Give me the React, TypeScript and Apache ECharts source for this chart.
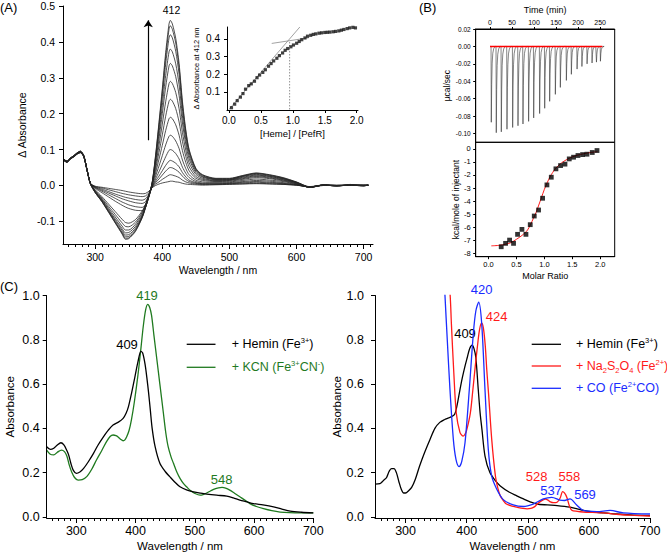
import React, { useEffect, useRef } from "react";
import * as echarts from "echarts";

const FONT = "'Liberation Sans', Arial, Helvetica, sans-serif";
const W = 667;
const H = 554;

// ---------------- Panel A : heme titration difference spectra ----------------
const A_WL = [253, 258, 263, 268, 273, 278, 283, 288, 293, 300, 310, 320, 330, 340, 345, 350, 360, 370, 375, 380, 385, 390, 395, 400, 405, 410, 412, 415, 420, 425, 430, 435, 440, 450, 460, 480, 500, 520, 540, 560, 580, 600, 620, 640, 660, 680, 700, 707];

const A_SPEC_01 = [0.072, 0.066, 0.074, 0.079, 0.087, 0.091, 0.079, 0.042, 0.006, -0.002, -0.005, -0.008, -0.011, -0.014, -0.016, -0.018, -0.021, -0.023, -0.022, -0.016, -0.006, 0.000, 0.004, 0.007, 0.009, 0.011, 0.012, 0.012, 0.010, 0.009, 0.006, 0.004, 0.003, 0.002, 0.001, 0.002, 0.003, 0.004, 0.005, 0.004, 0.003, 0.001, -0.003, 0.001, -0.001, 0.001, -0.001, 0.001];
const A_SPEC_02 = [0.070, 0.064, 0.075, 0.080, 0.088, 0.092, 0.080, 0.041, 0.005, -0.003, -0.007, -0.012, -0.017, -0.022, -0.024, -0.026, -0.029, -0.031, -0.029, -0.020, -0.005, 0.004, 0.010, 0.017, 0.023, 0.029, 0.030, 0.029, 0.026, 0.022, 0.015, 0.010, 0.007, 0.004, 0.003, 0.003, 0.004, 0.005, 0.006, 0.005, 0.003, 0.001, -0.004, 0.001, 0.000, 0.001, 0.000, 0.001];
const A_SPEC_03 = [0.074, 0.067, 0.073, 0.081, 0.089, 0.093, 0.081, 0.043, 0.006, -0.004, -0.010, -0.017, -0.024, -0.030, -0.033, -0.035, -0.039, -0.041, -0.037, -0.024, -0.004, 0.008, 0.018, 0.029, 0.040, 0.049, 0.050, 0.049, 0.044, 0.037, 0.026, 0.017, 0.011, 0.006, 0.004, 0.004, 0.005, 0.007, 0.009, 0.007, 0.005, 0.001, -0.004, 0.001, 0.000, 0.000, 0.001, 0.000];
const A_SPEC_04 = [0.071, 0.065, 0.076, 0.080, 0.088, 0.092, 0.080, 0.042, 0.005, -0.005, -0.013, -0.021, -0.029, -0.037, -0.040, -0.043, -0.048, -0.050, -0.045, -0.027, -0.003, 0.012, 0.026, 0.041, 0.056, 0.068, 0.070, 0.068, 0.062, 0.052, 0.036, 0.024, 0.015, 0.008, 0.005, 0.005, 0.006, 0.009, 0.011, 0.009, 0.006, 0.002, -0.004, 0.001, -0.001, 0.001, 0.000, 0.001];
const A_SPEC_05 = [0.073, 0.068, 0.074, 0.082, 0.089, 0.093, 0.082, 0.043, 0.005, -0.006, -0.016, -0.026, -0.036, -0.046, -0.050, -0.054, -0.059, -0.061, -0.054, -0.030, -0.002, 0.018, 0.038, 0.059, 0.080, 0.098, 0.100, 0.098, 0.089, 0.074, 0.051, 0.034, 0.022, 0.011, 0.007, 0.007, 0.008, 0.011, 0.014, 0.012, 0.008, 0.003, -0.005, 0.001, 0.000, 0.000, 0.001, 0.000];
const A_SPEC_06 = [0.070, 0.066, 0.077, 0.081, 0.088, 0.093, 0.081, 0.041, 0.005, -0.008, -0.020, -0.032, -0.044, -0.055, -0.060, -0.064, -0.069, -0.070, -0.060, -0.032, 0.000, 0.026, 0.054, 0.083, 0.113, 0.137, 0.140, 0.137, 0.124, 0.103, 0.071, 0.047, 0.030, 0.015, 0.010, 0.009, 0.010, 0.014, 0.018, 0.015, 0.011, 0.004, -0.005, 0.001, -0.001, 0.001, 0.000, 0.001];
const A_SPEC_07 = [0.072, 0.067, 0.075, 0.082, 0.089, 0.094, 0.082, 0.042, 0.005, -0.012, -0.031, -0.052, -0.073, -0.094, -0.103, -0.105, -0.095, -0.071, -0.052, -0.026, 0.003, 0.035, 0.073, 0.112, 0.153, 0.186, 0.190, 0.186, 0.169, 0.140, 0.097, 0.064, 0.041, 0.020, 0.014, 0.011, 0.012, 0.017, 0.022, 0.019, 0.013, 0.005, -0.005, 0.001, 0.000, 0.001, -0.001, 0.001];
const A_SPEC_08 = [0.071, 0.064, 0.076, 0.081, 0.090, 0.094, 0.081, 0.041, 0.005, -0.014, -0.035, -0.058, -0.081, -0.104, -0.114, -0.115, -0.102, -0.075, -0.054, -0.027, 0.004, 0.045, 0.092, 0.141, 0.193, 0.235, 0.240, 0.235, 0.214, 0.177, 0.123, 0.081, 0.052, 0.025, 0.017, 0.013, 0.014, 0.019, 0.025, 0.021, 0.015, 0.006, -0.005, 0.000, 0.001, 0.000, 0.001, 0.000];
const A_SPEC_09 = [0.073, 0.068, 0.074, 0.083, 0.090, 0.094, 0.083, 0.042, 0.005, -0.016, -0.038, -0.063, -0.088, -0.113, -0.124, -0.124, -0.108, -0.079, -0.056, -0.028, 0.005, 0.054, 0.111, 0.171, 0.233, 0.284, 0.290, 0.284, 0.259, 0.214, 0.148, 0.098, 0.063, 0.031, 0.020, 0.014, 0.015, 0.021, 0.027, 0.023, 0.016, 0.007, -0.005, 0.001, 0.000, 0.001, -0.001, 0.001];
const A_SPEC_10 = [0.070, 0.065, 0.077, 0.082, 0.089, 0.095, 0.082, 0.041, 0.004, -0.017, -0.040, -0.067, -0.094, -0.120, -0.132, -0.131, -0.114, -0.083, -0.058, -0.029, 0.006, 0.063, 0.130, 0.200, 0.274, 0.333, 0.340, 0.333, 0.303, 0.251, 0.174, 0.115, 0.074, 0.036, 0.023, 0.016, 0.016, 0.023, 0.029, 0.025, 0.018, 0.008, -0.005, 0.001, 0.000, 0.001, 0.000, 0.000];
const A_SPEC_11 = [0.072, 0.067, 0.075, 0.082, 0.090, 0.095, 0.083, 0.042, 0.004, -0.018, -0.042, -0.070, -0.098, -0.125, -0.138, -0.137, -0.119, -0.086, -0.060, -0.030, 0.007, 0.070, 0.145, 0.223, 0.306, 0.372, 0.380, 0.372, 0.339, 0.281, 0.194, 0.128, 0.083, 0.040, 0.025, 0.017, 0.017, 0.025, 0.031, 0.026, 0.019, 0.008, -0.005, 0.001, -0.001, 0.001, 0.001, 0.000];
const A_SPEC_12 = [0.071, 0.066, 0.076, 0.083, 0.091, 0.095, 0.082, 0.041, 0.004, -0.019, -0.044, -0.072, -0.102, -0.130, -0.143, -0.142, -0.123, -0.088, -0.061, -0.030, 0.008, 0.077, 0.160, 0.247, 0.338, 0.411, 0.420, 0.411, 0.374, 0.310, 0.214, 0.141, 0.091, 0.044, 0.027, 0.018, 0.018, 0.026, 0.033, 0.028, 0.020, 0.009, -0.005, 0.001, 0.000, 0.001, 0.000, 0.001];
const A_SPEC_13 = [0.073, 0.068, 0.074, 0.083, 0.091, 0.096, 0.083, 0.042, 0.004, -0.020, -0.045, -0.074, -0.104, -0.133, -0.147, -0.146, -0.126, -0.089, -0.061, -0.030, 0.009, 0.082, 0.169, 0.261, 0.358, 0.435, 0.445, 0.435, 0.397, 0.329, 0.227, 0.150, 0.097, 0.046, 0.029, 0.019, 0.019, 0.027, 0.034, 0.029, 0.021, 0.009, -0.004, 0.001, -0.001, 0.002, 0.000, 0.001];
const A_SPEC_14 = [0.071, 0.066, 0.077, 0.082, 0.090, 0.095, 0.083, 0.041, 0.004, -0.020, -0.045, -0.075, -0.105, -0.135, -0.150, -0.148, -0.128, -0.090, -0.062, -0.030, 0.010, 0.085, 0.175, 0.270, 0.370, 0.450, 0.460, 0.450, 0.410, 0.340, 0.235, 0.155, 0.100, 0.048, 0.030, 0.020, 0.020, 0.028, 0.035, 0.030, 0.022, 0.010, -0.004, 0.002, -0.002, 0.003, -0.001, 0.002];
const A_SPECTRA = [A_SPEC_01, A_SPEC_02, A_SPEC_03, A_SPEC_04, A_SPEC_05, A_SPEC_06, A_SPEC_07, A_SPEC_08, A_SPEC_09, A_SPEC_10, A_SPEC_11, A_SPEC_12, A_SPEC_13, A_SPEC_14];

const A_X_TICKS = [300, 400, 500, 600, 700];
const A_X_MINOR = [260, 270, 280, 290, 310, 320, 330, 340, 350, 360, 370, 380, 390, 410, 420, 430, 440, 450, 460, 470, 480, 490, 510, 520, 530, 540, 550, 560, 570, 580, 590, 610, 620, 630, 640, 650, 660, 670, 680, 690, 710];
const A_Y_TICKS = [-0.1, 0, 0.1, 0.2, 0.3, 0.4, 0.5];
const A_ARROW_WL = 379;
const A_ARROW_FROM = 0.126;
const A_ARROW_TO = 0.46;

// Inset of panel A
const INSET_RATIO = [0.04, 0.09, 0.13, 0.18, 0.22, 0.26, 0.31, 0.35, 0.40, 0.44, 0.48, 0.53, 0.57, 0.62, 0.66, 0.70, 0.75, 0.79, 0.84, 0.88, 0.92, 0.97, 1.01, 1.06, 1.10, 1.14, 1.19, 1.23, 1.28, 1.32, 1.36, 1.41, 1.45, 1.50, 1.54, 1.58, 1.63, 1.67, 1.72, 1.76, 1.80, 1.85, 1.89, 1.94, 1.98];
const INSET_ABS = [0.010, 0.030, 0.050, 0.070, 0.090, 0.115, 0.135, 0.145, 0.160, 0.180, 0.195, 0.210, 0.225, 0.245, 0.260, 0.275, 0.290, 0.305, 0.320, 0.335, 0.345, 0.355, 0.365, 0.375, 0.385, 0.395, 0.405, 0.415, 0.420, 0.425, 0.428, 0.432, 0.434, 0.436, 0.437, 0.438, 0.440, 0.442, 0.445, 0.449, 0.453, 0.458, 0.462, 0.465, 0.462];
const INSET_STEEP_X = [0, 1.11];
const INSET_STEEP_Y = [0, 0.467];
const INSET_FLAT_X = [0.67, 1.25];
const INSET_FLAT_Y = [0.374, 0.406];
const INSET_BREAK_X = [0.95, 0.95];
const INSET_BREAK_Y = [0, 0.39];
const INSET_X_TICKS = [0, 0.5, 1, 1.5, 2];
const INSET_Y_TICKS = [0.1, 0.2, 0.3, 0.4];

// ---------------- Panel B : ITC ----------------
const B_INJ_TIME = [2.3, 13.6, 25, 37.9, 50.8, 62.9, 74.2, 87, 98.5, 112, 123.5, 134.8, 147.7, 159, 172.7, 184, 197, 208, 219.7, 231, 241, 250];
const B_INJ_PEAK = [-0.087, -0.099, -0.098, -0.095, -0.093, -0.091, -0.089, -0.086, -0.082, -0.077, -0.071, -0.063, -0.055, -0.047, -0.039, -0.032, -0.026, -0.023, -0.020, -0.019, -0.018, -0.017];
const B_SPIKE_DT = [0, 0.6, 1.5, 2.6, 4, 6, 9];
const B_SPIKE_FRAC = [0, 1, 0.5, 0.22, 0.09, 0.03, 0];
const B_BASE_T = [0, 255];
const B_TIME_TICKS = [0, 50, 100, 150, 200, 250];
const B_RATE_TICKS = [0.02, 0, -0.02, -0.04, -0.06, -0.08, -0.1];

const B_RATIO = [0.227, 0.305, 0.377, 0.448, 0.52, 0.598, 0.67, 0.747, 0.819, 0.896, 0.968, 1.046, 1.124, 1.207, 1.29, 1.369, 1.446, 1.523, 1.602, 1.685, 1.763, 1.858, 1.943];
const B_HEAT = [-7.49, -7.23, -6.98, -7.23, -6.54, -6.16, -6.54, -5.8, -5.14, -4.68, -3.78, -2.76, -2.17, -1.53, -1.28, -1.17, -0.77, -0.64, -0.51, -0.44, -0.41, -0.28, -0.13];
const B_FIT_RATIO = [0.05, 0.2, 0.3, 0.4, 0.5, 0.6, 0.7, 0.8, 0.85, 0.9, 0.95, 1.0, 1.05, 1.1, 1.15, 1.2, 1.3, 1.4, 1.5, 1.6, 1.7, 1.8, 1.9, 1.95];
const B_FIT_HEAT = [-7.42, -7.38, -7.3, -7.18, -6.92, -6.62, -6.2, -5.35, -4.88, -4.3, -3.7, -3.1, -2.6, -2.15, -1.8, -1.5, -1.1, -0.82, -0.62, -0.48, -0.38, -0.3, -0.24, -0.21];
const B_RATIO_TICKS = [0, 0.5, 1, 1.5, 2];
const B_HEAT_TICKS = [0, -1, -2, -3, -4, -5, -6, -7, -8];

// ---------------- Panel C : absorption spectra ----------------
const CL_HEMIN_WL = [250, 256, 262, 268, 274, 279, 284, 287, 291, 295, 300, 306, 312, 320, 329, 337, 346, 354, 362, 371, 379, 384, 388, 393, 399, 404, 409, 412, 416, 419, 422, 425, 428, 433, 441, 450, 458, 466, 475, 486, 498, 510, 520, 537, 554, 565, 576, 588, 599, 615, 633, 647, 661, 680, 700];
const CL_HEMIN_ABS = [0.317, 0.305, 0.31, 0.325, 0.335, 0.325, 0.3, 0.28, 0.24, 0.21, 0.197, 0.203, 0.218, 0.248, 0.287, 0.326, 0.363, 0.392, 0.415, 0.428, 0.445, 0.468, 0.498, 0.556, 0.634, 0.7, 0.748, 0.74, 0.69, 0.63, 0.56, 0.48, 0.4, 0.317, 0.242, 0.205, 0.181, 0.158, 0.136, 0.122, 0.113, 0.107, 0.103, 0.098, 0.094, 0.086, 0.076, 0.068, 0.06, 0.054, 0.045, 0.035, 0.026, 0.021, 0.018];
const CL_KCN_WL = [250, 256, 262, 268, 275, 280, 284, 288, 292, 297, 303, 310, 318, 326, 334, 343, 351, 357, 362, 367, 371, 375, 379, 382, 385, 389, 393, 398, 404, 409, 413, 417, 420.5, 424, 427, 431, 436, 441, 447, 451, 455, 460, 464, 470, 475, 481, 486, 493, 500, 509, 514, 520, 527, 534, 540, 546, 552, 559, 567, 576, 585, 593, 604, 616, 630, 644, 660, 678, 700];
const CL_KCN_ABS = [0.302, 0.283, 0.28, 0.292, 0.302, 0.295, 0.275, 0.235, 0.204, 0.178, 0.166, 0.168, 0.183, 0.215, 0.257, 0.3, 0.34, 0.363, 0.37, 0.367, 0.36, 0.35, 0.344, 0.348, 0.362, 0.39, 0.438, 0.52, 0.64, 0.76, 0.861, 0.935, 0.96, 0.945, 0.91, 0.82, 0.71, 0.6, 0.468, 0.38, 0.317, 0.27, 0.242, 0.2, 0.174, 0.15, 0.136, 0.118, 0.106, 0.098, 0.101, 0.108, 0.118, 0.127, 0.131, 0.133, 0.13, 0.121, 0.107, 0.091, 0.075, 0.06, 0.047, 0.037, 0.028, 0.022, 0.019, 0.018, 0.018];

const CR_HEMIN_WL = [250, 258, 264, 269, 273, 277, 281, 285, 289, 293, 297, 300, 305, 310, 316, 323, 331, 340, 348, 356, 364, 371, 380, 384, 389, 393, 397, 401, 405, 409, 412, 415, 419, 422, 425, 430, 438, 448, 455, 470, 482, 493, 504, 515, 532, 548, 569, 581, 591, 606, 624, 645, 668, 700];
const CR_HEMIN_ABS = [0.148, 0.15, 0.165, 0.178, 0.205, 0.218, 0.218, 0.2, 0.16, 0.125, 0.108, 0.108, 0.118, 0.133, 0.17, 0.23, 0.29, 0.35, 0.4, 0.427, 0.44, 0.448, 0.462, 0.5, 0.574, 0.63, 0.678, 0.72, 0.761, 0.776, 0.76, 0.72, 0.574, 0.47, 0.395, 0.275, 0.2, 0.16, 0.14, 0.111, 0.095, 0.081, 0.068, 0.058, 0.054, 0.051, 0.044, 0.036, 0.029, 0.023, 0.018, 0.013, 0.009, 0.006];
const CR_DITH_WL = [360, 364, 369, 373, 375, 379, 383, 389, 394, 397, 400, 406, 410, 414, 418, 421, 424.5, 427.5, 430.5, 433, 436, 441, 447, 451, 455, 461, 465, 474, 482, 492, 499, 505, 510, 515, 521, 529, 533, 537, 542, 548, 553, 557, 560, 564, 568, 572, 581, 591, 606, 624, 645, 668, 700];
const CR_DITH_ABS = [1.6, 1.3, 1.12, 1.0, 0.873, 0.649, 0.469, 0.382, 0.365, 0.372, 0.392, 0.469, 0.57, 0.679, 0.78, 0.845, 0.876, 0.85, 0.77, 0.66, 0.55, 0.35, 0.185, 0.13, 0.095, 0.07, 0.058, 0.049, 0.044, 0.038, 0.036, 0.038, 0.044, 0.056, 0.07, 0.08, 0.076, 0.068, 0.064, 0.066, 0.085, 0.114, 0.108, 0.088, 0.05, 0.03, 0.025, 0.022, 0.02, 0.018, 0.012, 0.008, 0.004];
const CR_CO_WL = [358, 361, 364.5, 368.3, 372.7, 378.2, 382.5, 387.5, 391.9, 397.3, 404.3, 410.9, 415, 419.7, 424.6, 430, 435.4, 440.9, 449.1, 459.9, 476.3, 492.7, 509, 525.4, 539.2, 552.7, 560, 569.1, 580, 590.9, 612.8, 634.6, 656.4, 700];
const CR_CO_ABS = [1.5, 1.2, 1.0, 0.798, 0.574, 0.35, 0.26, 0.227, 0.25, 0.335, 0.574, 0.828, 0.93, 0.97, 0.873, 0.574, 0.305, 0.185, 0.126, 0.078, 0.054, 0.047, 0.058, 0.081, 0.088, 0.076, 0.074, 0.081, 0.054, 0.029, 0.024, 0.029, 0.018, 0.013];

const C_X_TICKS = [300, 400, 500, 600, 700];
const C_X_MINOR = [260, 270, 280, 290, 310, 320, 330, 340, 350, 360, 370, 380, 390, 410, 420, 430, 440, 450, 460, 470, 480, 490, 510, 520, 530, 540, 550, 560, 570, 580, 590, 610, 620, 630, 640, 650, 660, 670, 680, 690];
const C_Y_TICKS = [0, 0.2, 0.4, 0.6, 0.8, 1.0];

const GREEN = "#1f7a1f";
const RED = "#ff1a1a";
const BLUE = "#1a2cff";

const zip = (xs: number[], ys: number[]) => xs.map((x, i) => [x, ys[i]]);

function txt(size: number, color = "#000") {
  return { fontFamily: FONT, fontSize: size, color };
}

function vAxis(p: any) {
  return {
    type: "value",
    gridIndex: p.grid,
    min: p.min,
    max: p.max,
    position: p.position,
    offset: 0,
    axisLine: { show: p.line !== false, onZero: false, lineStyle: { color: "#000", width: 1 } },
    axisTick: p.ticks
      ? { show: true, inside: !!p.inside, length: p.tickLen ?? 4, customValues: p.ticks, lineStyle: { color: "#000", width: 1 } }
      : { show: false },
    axisLabel: p.labels
      ? { show: true, customValues: p.labels, formatter: p.fmt, margin: p.margin ?? 6, ...txt(p.fs ?? 11) }
      : { show: false },
    splitLine: { show: false },
    minorTick: { show: false },
    name: p.name,
    nameLocation: "middle",
    nameGap: p.nameGap,
    nameRotate: p.nameRotate,
    nameTextStyle: txt(p.nfs ?? 11),
    silent: true,
    z: 5,
  };
}

function buildSpikes() {
  const pts: number[][] = [[B_BASE_T[0], 0]];
  B_INJ_TIME.forEach((t, i) => {
    B_SPIKE_DT.forEach((dt, k) => pts.push([t + dt, B_INJ_PEAK[i] * B_SPIKE_FRAC[k]]));
  });
  pts.push([B_BASE_T[1], 0]);
  return pts;
}

function legendText(x: number, y: number, text: string, color: string) {
  return {
    type: "text",
    x,
    y,
    silent: true,
    style: {
      text,
      align: "left",
      verticalAlign: "middle",
      rich: {
        n: { fontFamily: FONT, fontSize: 12.5, fill: color, lineHeight: 16 },
        s: { fontFamily: FONT, fontSize: 7.5, fill: color, lineHeight: 9, verticalAlign: "top" },
        b: { fontFamily: FONT, fontSize: 7.5, fill: color, lineHeight: 9, verticalAlign: "bottom" },
      },
    },
  };
}

function label(x: number, y: number, text: string, size: number, color = "#000", align = "center") {
  return {
    type: "text",
    x,
    y,
    silent: true,
    style: { text, fontFamily: FONT, fontSize: size, fill: color, align, verticalAlign: "middle" },
  };
}

function legendLine(x1: number, x2: number, y: number, color: string) {
  return { type: "line", silent: true, shape: { x1, y1: y, x2, y2: y }, style: { stroke: color, lineWidth: 1.3 } };
}

function buildOption() {
  const gridBase = { containLabel: false, outerBoundsMode: "none" };
  const grid = [
    { ...gridBase, left: 63, top: 6, width: 310, height: 238 },
    { ...gridBase, left: 227, top: 27, width: 131, height: 83 },
    { ...gridBase, left: 475.7, top: 29, width: 139, height: 113.3, show: true, borderColor: "#000", borderWidth: 1, backgroundColor: "transparent" },
    { ...gridBase, left: 475.7, top: 142.3, width: 139, height: 114.4, show: true, borderColor: "#000", borderWidth: 1, backgroundColor: "transparent" },
    { ...gridBase, left: 46.7, top: 295.5, width: 266.6, height: 222.5 },
    { ...gridBase, left: 375, top: 295.5, width: 275, height: 222.5 },
  ];

  const f1 = (v: number) => v.toFixed(1);
  const f2 = (v: number) => v.toFixed(2);
  const f0 = (v: number) => String(Math.round(v));

  const xAxis = [
    vAxis({ grid: 0, min: 252, max: 714, position: "bottom", ticks: A_X_TICKS, labels: A_X_TICKS, fmt: f0, fs: 10.5, margin: 7, tickLen: 5, name: "Wavelength / nm", nameGap: 20, nfs: 10.5 }),
    vAxis({ grid: 0, min: 252, max: 714, position: "bottom", ticks: A_X_MINOR, tickLen: 3, line: false }),
    vAxis({ grid: 1, min: -0.03, max: 2.02, position: "bottom", ticks: INSET_X_TICKS, labels: INSET_X_TICKS, fmt: f1, fs: 10, margin: 5, tickLen: 3, name: "[Heme] / [PefR]", nameGap: 18, nfs: 9.5 }),
    vAxis({ grid: 2, min: -32.5, max: 283, position: "top", ticks: B_TIME_TICKS, labels: B_TIME_TICKS, fmt: f0, fs: 7, margin: 3, tickLen: 2, name: "Time (min)", nameGap: 14.5, nfs: 9 }),
    vAxis({ grid: 3, min: -0.23, max: 2.26, position: "bottom", ticks: B_RATIO_TICKS, labels: B_RATIO_TICKS, fmt: f1, fs: 7.5, margin: 4, tickLen: 2.5, name: "Molar Ratio", nameGap: 15, nfs: 9 }),
    vAxis({ grid: 4, min: 250, max: 700, position: "bottom", ticks: C_X_TICKS, labels: C_X_TICKS, fmt: f0, fs: 12.5, margin: 6, tickLen: 5, name: "Wavelength / nm", nameGap: 22, nfs: 11.5 }),
    vAxis({ grid: 4, min: 250, max: 700, position: "bottom", ticks: C_X_MINOR, tickLen: 3, line: false }),
    vAxis({ grid: 5, min: 250, max: 700, position: "bottom", ticks: C_X_TICKS, labels: C_X_TICKS, fmt: f0, fs: 12.5, margin: 6, tickLen: 5, name: "Wavelength / nm", nameGap: 22, nfs: 11.5 }),
    vAxis({ grid: 5, min: 250, max: 700, position: "bottom", ticks: C_X_MINOR, tickLen: 3, line: false }),
  ];

  const yAxis = [
    vAxis({ grid: 0, min: -0.163, max: 0.5, position: "left", ticks: A_Y_TICKS, labels: A_Y_TICKS, fmt: f1, fs: 10.5, margin: 8, tickLen: 4, name: "Δ Absorbance", nameGap: 36, nameRotate: 90, nfs: 10.5 }),
    vAxis({ grid: 1, min: -0.003, max: 0.467, position: "left", ticks: INSET_Y_TICKS, labels: INSET_Y_TICKS, fmt: f1, fs: 10, margin: 7, tickLen: 3, name: "Δ Absorbance at 412 nm", nameGap: 27, nameRotate: 90, nfs: 7.5 }),
    vAxis({ grid: 2, min: -0.11, max: 0.02, position: "left", ticks: B_RATE_TICKS, labels: B_RATE_TICKS, fmt: f2, fs: 6.5, margin: 5, tickLen: 2.5, name: "µcal/sec", nameGap: 20.5, nameRotate: 90, nfs: 8.5 }),
    vAxis({ grid: 3, min: -8.25, max: 0.5, position: "left", ticks: B_HEAT_TICKS, labels: B_HEAT_TICKS, fmt: f0, fs: 7.5, margin: 5, tickLen: 2.5, name: "kcal/mole of injectant", nameGap: 14.5, nameRotate: 90, nfs: 8.5 }),
    vAxis({ grid: 4, min: -0.005, max: 1.0, position: "left", ticks: C_Y_TICKS, labels: C_Y_TICKS, fmt: f1, fs: 12.5, margin: 7, tickLen: 4, name: "Absorbance", nameGap: 31, nameRotate: 90, nfs: 11.5 }),
    vAxis({ grid: 5, min: -0.005, max: 1.0, position: "left", ticks: C_Y_TICKS, labels: C_Y_TICKS, fmt: f1, fs: 12.5, margin: 11, tickLen: 4, name: "Absorbance", nameGap: 31, nameRotate: 90, nfs: 11.5 }),
  ];

  const series: any[] = [];

  A_SPECTRA.forEach((spec, i) => {
    const s: any = {
      type: "line",
      xAxisIndex: 0,
      yAxisIndex: 0,
      data: zip(A_WL, spec),
      symbol: "none",
      smooth: 0.25,
      lineStyle: { color: "#262626", width: 0.8 },
      silent: true,
      z: 2,
    };
    if (i === A_SPECTRA.length - 1) {
      s.markLine = {
        silent: true,
        symbol: ["none", "arrow"],
        symbolSize: 7,
        label: { show: false },
        lineStyle: { color: "#000", width: 1.2, type: "solid" },
        data: [[{ coord: [A_ARROW_WL, A_ARROW_FROM] }, { coord: [A_ARROW_WL, A_ARROW_TO] }]],
      };
    }
    series.push(s);
  });

  // inset
  series.push({ type: "line", xAxisIndex: 2, yAxisIndex: 1, data: zip(INSET_STEEP_X, INSET_STEEP_Y), symbol: "none", lineStyle: { color: "#8a8a8a", width: 0.8 }, silent: true });
  series.push({ type: "line", xAxisIndex: 2, yAxisIndex: 1, data: zip(INSET_FLAT_X, INSET_FLAT_Y), symbol: "none", lineStyle: { color: "#8a8a8a", width: 0.8 }, silent: true });
  series.push({ type: "line", xAxisIndex: 2, yAxisIndex: 1, data: zip(INSET_BREAK_X, INSET_BREAK_Y), symbol: "none", lineStyle: { color: "#777", width: 0.8, type: [1.5, 1.5] }, silent: true });
  series.push({ type: "scatter", xAxisIndex: 2, yAxisIndex: 1, data: zip(INSET_RATIO, INSET_ABS), symbol: "rect", symbolSize: 3.2, itemStyle: { color: "#111" }, silent: true, z: 4 });

  // ITC
  series.push({ type: "line", xAxisIndex: 3, yAxisIndex: 2, data: buildSpikes(), symbol: "none", lineStyle: { color: "#333", width: 0.6 }, silent: true });
  series.push({ type: "line", xAxisIndex: 3, yAxisIndex: 2, data: B_BASE_T.map((t) => [t, 0]), symbol: "none", lineStyle: { color: "#ff0000", width: 1.6 }, silent: true, z: 4 });
  series.push({ type: "line", xAxisIndex: 4, yAxisIndex: 3, data: zip(B_FIT_RATIO, B_FIT_HEAT), symbol: "none", smooth: 0.3, lineStyle: { color: "#ff0000", width: 0.9 }, silent: true, z: 3 });
  series.push({ type: "scatter", xAxisIndex: 4, yAxisIndex: 3, data: zip(B_RATIO, B_HEAT), symbol: "rect", symbolSize: 4.8, itemStyle: { color: "#000" }, silent: true, z: 4 });

  // Panel C
  const cLine = (xi: number, yi: number, wl: number[], ab: number[], color: string, z = 2) => ({
    type: "line",
    xAxisIndex: xi,
    yAxisIndex: yi,
    data: zip(wl, ab),
    symbol: "none",
    smooth: 0.3,
    clip: true,
    lineStyle: { color, width: 1.3 },
    silent: true,
    z,
  });
  series.push(cLine(5, 4, CL_HEMIN_WL, CL_HEMIN_ABS, "#000", 3));
  series.push(cLine(5, 4, CL_KCN_WL, CL_KCN_ABS, GREEN, 2));
  series.push(cLine(7, 5, CR_HEMIN_WL, CR_HEMIN_ABS, "#000", 2));
  series.push(cLine(7, 5, CR_DITH_WL, CR_DITH_ABS, RED, 3));
  series.push(cLine(7, 5, CR_CO_WL, CR_CO_ABS, BLUE, 4));

  const graphic: any[] = [
    label(0, 7, "(A)", 13, "#000", "left"),
    label(419, 7, "(B)", 13, "#000", "left"),
    label(0, 286, "(C)", 13, "#000", "left"),
    label(171.5, 10, "412", 10.5),
    // panel C left
    label(127, 344, "409", 13),
    label(147, 295, "419", 13, GREEN),
    label(221.7, 479, "548", 13, GREEN),
    legendLine(186.7, 215.5, 344.3, "#000"),
    legendLine(186.7, 215.5, 367.3, GREEN),
    legendText(231.7, 344.3, "{n|+ Hemin (Fe}{s|3+}{n|)}", "#000"),
    legendText(231.7, 367.3, "{n|+ KCN (Fe}{s|3+}{n|CN}{s|-}{n|)}", GREEN),
    // panel C right
    label(465, 333.3, "409", 13),
    label(481.7, 289, "420", 13, BLUE),
    label(496.7, 316.7, "424", 13, RED),
    label(536.7, 476, "528", 13, RED),
    label(569.3, 476, "558", 13, RED),
    label(551, 490, "537", 13, BLUE),
    label(585, 494, "569", 13, BLUE),
    legendLine(531.7, 561, 344.3, "#000"),
    legendLine(531.7, 561, 366, RED),
    legendLine(531.7, 561, 388.3, BLUE),
    legendText(576, 344.3, "{n|+ Hemin (Fe}{s|3+}{n|)}", "#000"),
    legendText(576, 366, "{n|+ Na}{b|2}{n|S}{b|2}{n|O}{b|4}{n| (Fe}{s|2+}{n|)}", RED),
    legendText(576, 388.3, "{n|+ CO (Fe}{s|2+}{n|CO)}", BLUE),
  ];

  return {
    animation: false,
    backgroundColor: "#ffffff",
    textStyle: { fontFamily: FONT },
    grid,
    xAxis,
    yAxis,
    series,
    graphic,
  };
}

export default function App() {
  const ref = useRef<HTMLDivElement>(null);
  useEffect(() => {
    if (!ref.current) return;
    const chart = echarts.init(ref.current, null, { renderer: "svg", width: W, height: H });
    chart.setOption(buildOption() as any);
    return () => chart.dispose();
  }, []);
  return (
    <div
      ref={ref}
      style={{ position: "absolute", left: 0, top: 0, width: W, height: H, background: "#fff" }}
    />
  );
}
